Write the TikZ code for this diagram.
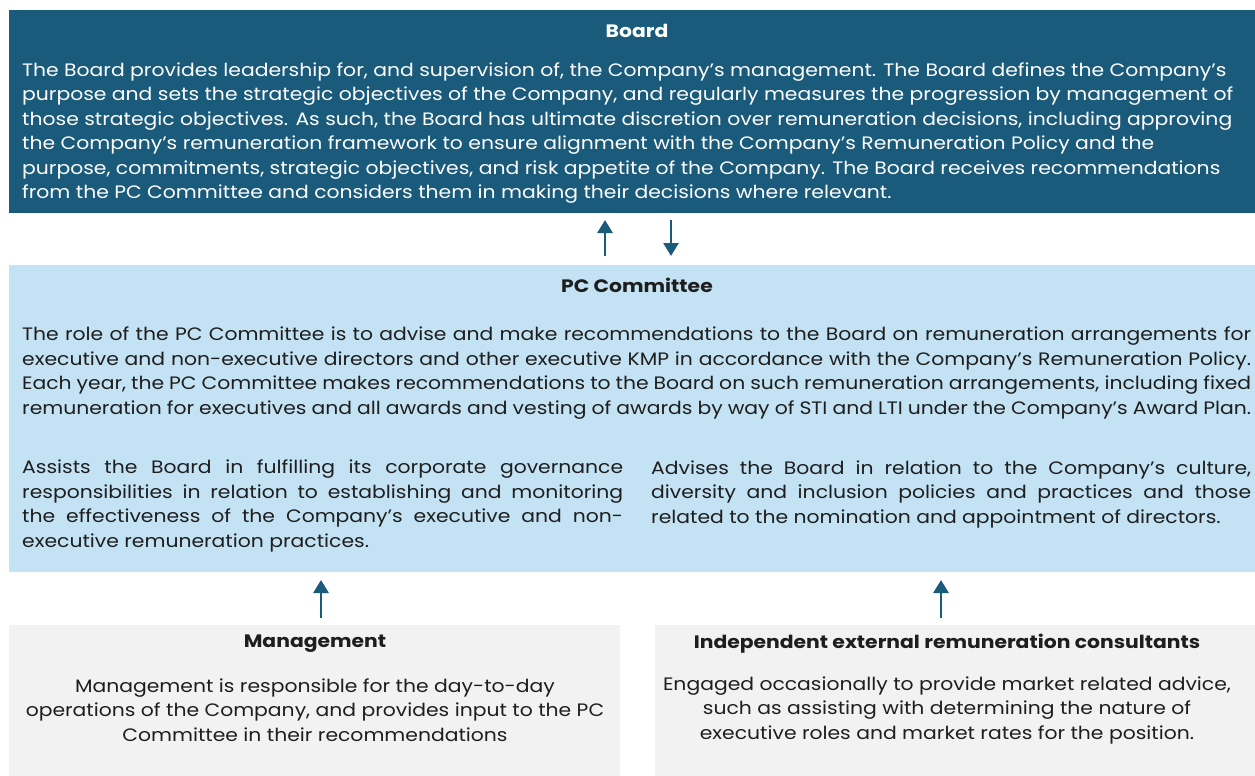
\documentclass[tikz,border=0pt]{standalone}
\usepackage{fontspec}
\setmainfont[FakeStretch=1.13]{Poppins}
\usetikzlibrary{arrows.meta}
\definecolor{boardblue}{HTML}{1A5A7A}
\definecolor{pcblue}{HTML}{C3E2F3}
\definecolor{mgray}{HTML}{F2F2F2}
\definecolor{ink}{HTML}{1E1E1E}
\newcommand{\jline}[2]{\makebox[#1][s]{#2}}
\tikzset{
  box/.style={draw=none,inner sep=0pt,outer sep=0pt,anchor=north west},
  ttl/.style={inner sep=0pt,font=\fontsize{18}{24.5}\selectfont\bfseries},
  body/.style={inner sep=0pt,font=\fontsize{18}{24.5}\selectfont},
  flow/.style={draw=boardblue,line width=2.8pt,-{Triangle[width=15pt,length=13pt]}},
}
\begin{document}
\begin{tikzpicture}[x=1pt,y=-1pt]
\useasboundingbox[fill=white] (0,0) rectangle (1255,776);
% boxes
\node[box,fill=boardblue,minimum width=1246pt,minimum height=203pt] (board) at (9,10) {};
\node[box,fill=pcblue,minimum width=1246pt,minimum height=307pt] (pc) at (9,265) {};
\node[box,fill=mgray,minimum width=611pt,minimum height=151pt] (mgmt) at (9,625) {};
\node[box,fill=mgray,minimum width=600pt,minimum height=151pt] (cons) at (655,625) {};
% board texts
\node[ttl,text=white] (boardt) at (637,31) {Board};
\node[body,text=white,anchor=west,align=left] (boardb) at (22,133) {The Board provides leadership for, and supervision of, the Company’s management. The Board defines the Company’s\\
purpose and sets the strategic objectives of the Company, and regularly measures the progression by management of\\
those strategic objectives. As such, the Board has ultimate discretion over remuneration decisions, including approving\\
the Company's remuneration framework to ensure alignment with the Company’s Remuneration Policy and the\\
purpose, commitments, strategic objectives, and risk appetite of the Company. The Board receives recommendations\\
from the PC Committee and considers them in making their decisions where relevant.};
% pc texts
\node[ttl,text=ink] (pct) at (637,285) {PC Committee};
\node[body,text=ink,anchor=west,align=left] (pcb) at (22,373) {\jline{1229pt}{The role of the PC Committee is to advise and make recommendations to the Board on remuneration arrangements for}\\
\jline{1229pt}{executive and non-executive directors and other executive KMP in accordance with the Company’s Remuneration Policy.}\\
\jline{1229pt}{Each year, the PC Committee makes recommendations to the Board on such remuneration arrangements, including fixed}\\
\jline{1229pt}{remuneration for executives and all awards and vesting of awards by way of STI and LTI under the Company’s Award Plan.}};
\node[body,text=ink,anchor=west,align=left] (pcl) at (22,506) {\jline{601pt}{Assists the Board in fulfilling its corporate governance}\\
\jline{601pt}{responsibilities in relation to establishing and monitoring}\\
\jline{601pt}{the effectiveness of the Company’s executive and non-}\\
executive remuneration practices.};
\node[body,text=ink,anchor=west,align=left] (pcr) at (651,494) {\jline{600pt}{Advises the Board in relation to the Company’s culture,}\\
\jline{600pt}{diversity and inclusion policies and practices and those}\\
related to the nomination and appointment of directors.};
% bottom texts
\node[ttl,text=ink] (mgmtt) at (315,644) {Management};
\node[body,text=ink,align=center] (mgmtb) at (315,710) {Management is responsible for the day-to-day\\
operations of the Company, and provides input to the PC\\
Committee in their recommendations};
\node[ttl,text=ink] (const) at (947,644) {Independent external remuneration consultants};
\node[body,text=ink,align=center] (consb) at (947,710) {Engaged occasionally to provide market related advice,\\
such as assisting with determining the nature of\\
executive roles and market rates for the position.};
% arrows
\coordinate (a1s) at (605,256); \coordinate (a1e) at (605,220);
\coordinate (a2s) at (671,220); \coordinate (a2e) at (671,256);
\coordinate (a3s) at (321,618); \coordinate (a3e) at (321,580);
\coordinate (a4s) at (941,618); \coordinate (a4e) at (941,580);
\draw[flow] (a1s) -- (a1e);
\draw[flow] (a2s) -- (a2e);
\draw[flow] (a3s) -- (a3e);
\draw[flow] (a4s) -- (a4e);
\end{tikzpicture}
\end{document}
